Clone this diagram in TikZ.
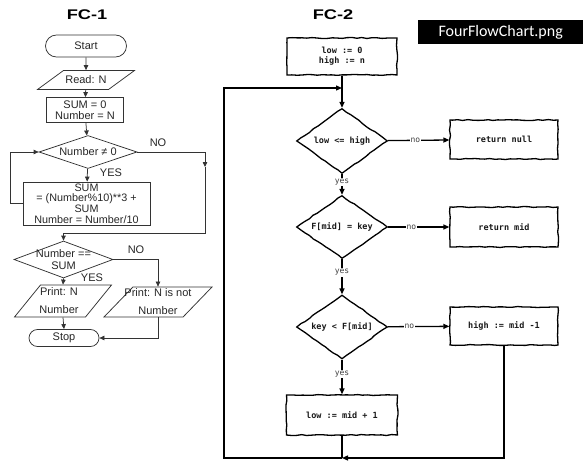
\documentclass[tikz,border=0pt]{standalone}
\usepackage{fontspec}
\setmainfont{Liberation Sans}
\newfontfamily\sketchfont{DejaVu Sans Mono}
\newfontfamily\tagfont{Carlito}
\usetikzlibrary{shapes.geometric,shapes.misc,arrows.meta,decorations.pathmorphing}
\begin{document}
\pgfmathsetseed{7}
\begin{tikzpicture}[x=1pt,y=-1pt,
  fcline/.style={draw=black!80, line width=0.75pt},
  fctext/.style={font=\fontsize{11}{11.3}\selectfont, text=black!85},
  fcbox/.style={fcline, fctext, rectangle, align=center, inner sep=0.5pt},
  fcterm/.style={fcline, fctext, rounded rectangle, inner sep=0pt},
  fcio/.style={fcline, trapezium, trapezium left angle=60, trapezium right angle=120,
     trapezium stretches=true, inner sep=1pt},
  fcdec/.style={fcline, diamond, inner sep=1pt},
  fcin/.style={fctext, align=center, inner sep=0pt},
  fcarr/.style={fcline, -{Triangle[length=5pt,width=4.5pt]}},
  fclab/.style={fctext, inner sep=0pt},
  ttl/.style={font=\bfseries\fontsize{14}{14}\selectfont},
  skline/.style={draw=black, line width=1.3pt},
  sktext/.style={font=\sketchfont\bfseries\fontsize{8.5}{10}\selectfont, text=black!90},
  sketchy/.style={decorate, decoration={random steps, segment length=5pt, amplitude=0.5pt}},
  skbox/.style={skline, sktext, rectangle, align=center, sketchy},
  skdec/.style={skline, diamond, inner sep=1pt, sketchy},
  skin/.style={sktext, inner sep=0pt},
  skarr/.style={skline, -{Triangle[length=6pt,width=5pt]}},
  sklab/.style={font=\sketchfont\fontsize{8}{8}\selectfont, text=black!75, fill=white, inner sep=1pt},
]
\useasboundingbox (0,0) rectangle (583,468);

% ---------------- FC-1 ----------------
\node[ttl] (t1) at (87,15) {\scalebox{1.3}[1]{FC-1}};
\node[fcterm, minimum width=81pt, minimum height=22pt] (start) at (86,46) {Start};
\node[fcio, minimum width=97pt, minimum height=19pt,
      label={[fcin]center:{Read: N}}] (read) at (86,80) {};
\node[fcbox, minimum width=77pt, minimum height=25pt] (init) at (85,110) {SUM = 0\\Number = N};
\node[fcdec, minimum width=98pt, minimum height=33pt,
      label={[fcin]center:{Number ≠ 0}}] (c1) at (88,152) {};
\node[fcbox, minimum width=127pt, minimum height=43pt, font=\fontsize{10.8}{10.8}\selectfont] (body) at (86.5,203.5)
      {SUM\\= (Number\%10)**3 +\\SUM\\Number = Number/10};
\node[fcdec, minimum width=99pt, minimum height=37pt,
      label={[fcin, font=\fontsize{11}{11.5}\selectfont]center:{Number ==\\SUM}}] (c2) at (63.5,259.5) {};
\node[fcio, minimum width=97pt, minimum height=32pt,
      label={[fcin, font=\fontsize{11}{18}\selectfont, xshift=-4pt]center:{Print: N\\Number}}] (pyes) at (63,301) {};
\node[fcio, minimum width=108pt, minimum height=30pt,
      label={[fcin, font=\fontsize{11}{18}\selectfont]center:{Print: N is not\\Number}}] (pno) at (158,302) {};
\node[fcterm, minimum width=70pt, minimum height=17pt] (stop) at (64,338) {Stop};

\node[fclab] (no1) at (158,143) {NO};
\node[fclab] (yes1) at (111,173) {YES};
\node[fclab] (no2) at (136,250) {NO};
\node[fclab] (yes2) at (92,278) {YES};

\coordinate (lx) at (10,0);
\coordinate (r1) at (205,167);
\coordinate (r2) at (63.5,233);

\draw[fcarr] (start) -- (read);
\draw[fcarr] (read) -- (init);
\draw[fcarr] (init) -- (c1);
\draw[fcarr] (c1) -- (body);
\draw[fcarr] (body.west) -- (body.west -| lx) |- (c1.west);
\draw[fcarr] (c1.east) -| (r1);
\draw[fcline] (r1) |- (r2);
\draw[fcarr] (r2) -- (c2.north);
\draw[fcarr] (c2.east) -| (pno.north);
\draw[fcarr] (c2.south) -- (pyes.north);
\draw[fcarr] (pyes.south) -- (stop.north);
\draw[fcarr] (pno.south) |- (stop.east);

% ---------------- FC-2 ----------------
\node[ttl] (t2) at (333,15) {\scalebox{1.3}[1]{FC-2}};
\node[fill=black, text=white, font=\tagfont\fontsize{16}{16}\selectfont, inner sep=0pt,
      minimum width=165pt, minimum height=24pt, anchor=north west] (tag) at (418,20) {FourFlowChart.png};

\node[skbox, minimum width=110pt, minimum height=37pt] (init2) at (342,56.5) {low := 0\\high := n};
\node[skdec, minimum width=91pt, minimum height=65pt,
      label={[skin]center:{low <= high}}] (d1) at (342,141) {};
\node[skbox, minimum width=108pt, minimum height=39pt] (rnull) at (504,139.5) {return null};
\node[skdec, minimum width=91pt, minimum height=63pt,
      label={[skin]center:{F[mid] = key}}] (d2) at (342,227) {};
\node[skbox, minimum width=108pt, minimum height=40pt] (rmid) at (504,227) {return mid};
\node[skdec, minimum width=91pt, minimum height=64pt,
      label={[skin]center:{key < F[mid]}}] (d3) at (342,327) {};
\node[skbox, minimum width=108pt, minimum height=38pt] (hi) at (504,326) {high := mid -1};
\node[skbox, minimum width=111pt, minimum height=40pt] (lo) at (342,415) {low := mid + 1};

\coordinate (jn) at (342,88);
\coordinate (jb) at (342,458);
\coordinate (bl) at (224,458);
\coordinate (tl) at (224,88);

\draw[skarr] (init2) -- (d1);
\draw[skarr] (d1) -- (rnull) node[sklab, pos=0.45] (n1) {no};
\draw[skarr] (d1) -- (d2) node[sklab, pos=0.38] (y1) {yes};
\draw[skarr] (d2) -- (rmid) node[sklab, pos=0.38] (n2) {no};
\draw[skarr] (d2) -- (d3) node[sklab, pos=0.38] (y2) {yes};
\draw[skarr] (d3) -- (hi) node[sklab, pos=0.35] (n3) {no};
\draw[skarr] (d3) -- (lo) node[sklab, pos=0.42] (y3) {yes};
\draw[skarr] (hi.south) |- (jb);
\draw[skline] (lo.south) -- (jb);
\draw[skarr] (jb) -- (bl) -- (tl) -- (jn);
\end{tikzpicture}
\end{document}
